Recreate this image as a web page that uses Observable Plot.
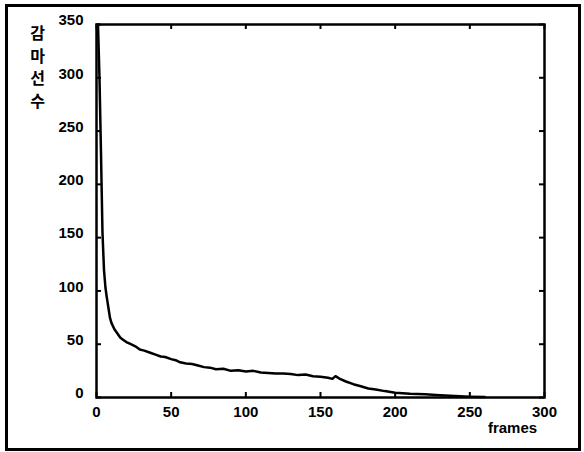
<!DOCTYPE html>
<html><head><meta charset="utf-8">
<script src="https://cdn.jsdelivr.net/npm/d3@7"></script>
<script src="https://cdn.jsdelivr.net/npm/@observablehq/plot@0.6"></script>
<style>
body{margin:0;background:#fff}
#wrap{position:relative;width:584px;height:452px}
#border{position:absolute;left:5px;top:4px;width:570px;height:441px;border:3px solid #000;pointer-events:none}
</style></head>
<body><div id="wrap"><div id="border"></div></div>
<script>
const frames = [1,2,3,4,5,6,7,8,9,10,12,14,16,18,20,23,26,29,32,36,40,43,46,50,53,56,60,64,68,72,76,80,85,90,95,100,105,110,115,120,125,130,135,140,145,150,155,158,160,163,167,172,177,182,187,193,200,210,220,230,240,250,260];
const counts = [350,300,230,155,120,103,93,84,75,70,64,60,56,54,52,50,48,45,44,42,40,38.5,38,36,35,33,32,31.5,30,28.5,28,26.5,27,25,25.5,24.5,25,23.5,23,22.5,22.5,22,21,21.5,20,19.5,18.5,17.5,20,17.5,15,12.5,10.5,8.5,7.5,6,4.5,3.5,3,2,1.3,0.8,0.5];
const xTicks = [0,50,100,150,200,250,300];
const yTicks = [0,50,100,150,200,250,300,350];
const yTitle = "감\n마\n선\n수";
const xTitle = "frames";

const data = frames.map((f,i)=>({f, c: counts[i]}));
const W = 584, H = 452, mL = 96, mR = 40, mT = 24, mB = 55;
const innerH = H - mT - mB;
const innerW = W - mL - mR;
const tl = 5;
const font = "Liberation Sans, Arial, sans-serif";

const chart = Plot.plot({
  width: W, height: H,
  marginLeft: mL, marginRight: mR, marginTop: mT, marginBottom: mB,
  style: {fontFamily: font, fontSize: "15px", fontWeight: "bold", color: "#000", background: "transparent"},
  x: {domain: [0,300]},
  y: {domain: [0,350]},
  marks: [
    Plot.axisX(xTicks, {tickSize: 0, tickPadding: 9, fontWeight: "bold", fontSize: 15, label: null}),
    Plot.axisY(yTicks, {tickSize: 0, tickPadding: 13, fontWeight: "bold", fontSize: 15, dy: -4, label: null}),
    Plot.tickX(xTicks, {x: d=>d, insetTop: innerH - tl, stroke: "#000", strokeWidth: 2}),
    Plot.tickX(xTicks, {x: d=>d, insetBottom: innerH - tl, stroke: "#000", strokeWidth: 2}),
    Plot.tickY(yTicks, {y: d=>d, insetRight: innerW - tl, stroke: "#000", strokeWidth: 2}),
    Plot.tickY(yTicks, {y: d=>d, insetLeft: innerW - tl, stroke: "#000", strokeWidth: 2}),
    Plot.frame({stroke: "#000", strokeWidth: 2.5}),
    Plot.line(data, {x: "f", y: "c", stroke: "#000", strokeWidth: 2.5, curve: "linear"}),
    Plot.text([yTitle], {frameAnchor: "top-left", dx: -59, dy: -1, lineAnchor: "top", lineHeight: 1.4, fontSize: 16, fontWeight: "bold", fontFamily: "Noto Sans CJK KR", textAnchor: "middle", fill: "#000"}),
    Plot.text([xTitle], {frameAnchor: "bottom-right", dx: -32, dy: 35, fontSize: 15, fontWeight: "bold", textAnchor: "middle", fill: "#000"})
  ]
});
document.getElementById("wrap").prepend(chart);
</script>
</body></html>
